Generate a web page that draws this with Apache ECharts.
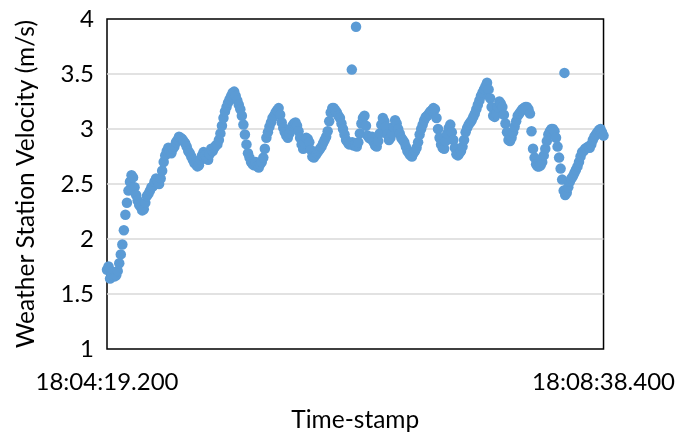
<!DOCTYPE html>
<html>
<head>
<meta charset="utf-8">
<script src="https://cdn.jsdelivr.net/npm/echarts@6/dist/echarts.min.js"></script>
<style>
  html, body { margin: 0; padding: 0; background: #fff; }
  #chart { width: 678px; height: 438px; }
</style>
</head>
<body>
<div id="chart"></div>
<script>
// Logger start time (seconds since midnight) and sampling step
const startClock = 18 * 3600 + 4 * 60 + 19.2;   // 18:04:19.200
const spanSeconds = 259.2;                      // ends 18:08:38.400
const stepSeconds = 0.8;

// Velocity readings (m/s), one every stepSeconds
const velocity = [
  1.72, 1.75, 1.64, 1.68, 1.70, 1.66, 1.67, 1.71, 1.78, 1.86,
  1.95, 2.08, 2.22, 2.33, 2.44, 2.52, 2.58, 2.56, 2.47, 2.40,
  2.35, 2.31, 2.29, 2.26, 2.27, 2.33, 2.39, 2.41, 2.44, 2.47,
  2.48, 2.52, 2.55, 2.53, 2.50, 2.55, 2.62, 2.70, 2.76, 2.80,
  2.83, 2.80, 2.78, 2.82, 2.84, 2.88, 2.90, 2.93, 2.92, 2.91,
  2.89, 2.87, 2.84, 2.80, 2.78, 2.75, 2.72, 2.69, 2.68, 2.66,
  2.67, 2.72, 2.76, 2.79, 2.76, 2.73, 2.72, 2.77, 2.82, 2.80,
  2.83, 2.85, 2.86, 2.90, 2.96, 3.03, 3.10, 3.16, 3.20, 3.24,
  3.27, 3.30, 3.33, 3.34, 3.30, 3.26, 3.22, 3.18, 3.12, 3.04,
  2.95, 2.86, 2.78, 2.74, 2.70, 2.68, 2.67, 2.70, 2.66, 2.65,
  2.68, 2.70, 2.74, 2.82, 2.92, 2.97, 3.02, 3.06, 3.10, 3.12,
  3.15, 3.17, 3.19, 3.13, 3.06, 3.01, 2.97, 2.94, 2.92, 2.96,
  3.00, 3.03, 3.05, 3.06, 3.03, 2.98, 2.92, 2.86, 2.82, 2.87,
  2.92, 2.91, 2.88, 2.81, 2.75, 2.74, 2.76, 2.78, 2.80, 2.82,
  2.84, 2.87, 2.90, 2.93, 2.98, 3.07, 3.15, 3.19, 3.19, 3.17,
  3.15, 3.12, 3.10, 3.05, 3.00, 2.95, 2.90, 2.88, 2.86, 2.87,
  2.88, 2.85, 2.86, 2.84, 2.88, 2.96, 3.05, 3.10, 3.12, 3.03,
  2.94, 2.92, 2.91, 2.93, 2.88, 2.85, 2.84, 2.89, 2.96, 3.04,
  3.10, 3.07, 3.02, 2.95, 2.90, 2.92, 2.96, 3.02, 3.08, 3.05,
  3.00, 2.96, 2.92, 2.90, 2.88, 2.84, 2.80, 2.78, 2.76, 2.75,
  2.78, 2.80, 2.83, 2.88, 2.95, 3.00, 3.04, 3.08, 3.11, 3.12,
  3.14, 3.16, 3.17, 3.19, 3.18, 3.10, 3.00, 2.92, 2.86, 2.83,
  2.82, 2.89, 2.96, 3.01, 3.04, 2.97, 2.90, 2.83, 2.77, 2.76,
  2.78, 2.80, 2.84, 2.90, 2.97, 3.01, 3.04, 3.06, 3.08, 3.11,
  3.14, 3.18, 3.22, 3.26, 3.30, 3.33, 3.36, 3.39, 3.42, 3.36,
  3.28, 3.20, 3.12, 3.11, 3.14, 3.20, 3.25, 3.23, 3.20, 3.13,
  3.05, 2.97, 2.90, 2.89, 2.92, 2.97, 3.02, 3.07, 3.12, 3.14,
  3.16, 3.18, 3.19, 3.20, 3.20, 3.18, 3.14, 2.98, 2.82, 2.74,
  2.68, 2.66, 2.66, 2.67, 2.70, 2.76, 2.82, 2.89, 2.95, 2.98,
  3.00, 3.00, 2.98, 2.92, 2.84, 2.74, 2.64, 2.54, 2.44, 2.40,
  2.42, 2.47, 2.52, 2.55, 2.57, 2.60, 2.63, 2.66, 2.70, 2.75,
  2.79, 2.80, 2.82, 2.83, 2.84, 2.83, 2.86, 2.90, 2.93, 2.95,
  2.97, 2.99, 3.00, 2.97, 2.94
];

// Isolated spikes in the record
const spikeSeconds = [127.8, 130.0, 238.8];
const spikeValues = [3.54, 3.93, 3.51];

// Y axis range
const yMin = 1, yMax = 4, yStep = 0.5;

function clockLabel(offset) {
  const ms = Math.round((startClock + offset) * 1000);
  const h = Math.floor(ms / 3600000);
  const m = Math.floor((ms % 3600000) / 60000);
  const s = Math.floor((ms % 60000) / 1000);
  const f = ms % 1000;
  const p2 = n => String(n).padStart(2, '0');
  return h + ':' + p2(m) + ':' + p2(s) + '.' + String(f).padStart(3, '0');
}

const points = velocity.map((v, i) => [i * stepSeconds, v])
  .concat(spikeSeconds.map((t, i) => [t, spikeValues[i]]));

const font = 'Lato, "Open Sans", sans-serif';
const chart = echarts.init(document.getElementById('chart'), null, { renderer: 'canvas' });
chart.setOption({
  animation: false,
  backgroundColor: '#ffffff',
  grid: {
    left: 107, right: 74, top: 19, bottom: 89,
    show: true, borderColor: '#000000', borderWidth: 1.5, backgroundColor: 'transparent'
  },
  xAxis: {
    type: 'value',
    min: 0, max: spanSeconds, interval: spanSeconds,
    name: 'Time-stamp',
    nameLocation: 'middle', nameGap: 59,
    nameTextStyle: { fontFamily: font, fontSize: 24.5, color: '#000' },
    axisLine: { show: false },
    axisTick: { show: false },
    splitLine: { show: false },
    axisLabel: {
      margin: 21, fontFamily: font, fontSize: 24, color: '#000',
      showMinLabel: true, showMaxLabel: true,
      formatter: clockLabel
    }
  },
  yAxis: {
    type: 'value',
    min: yMin, max: yMax, interval: yStep,
    name: 'Weather Station Velocity (m/s)',
    nameLocation: 'middle', nameGap: 68,
    nameTextStyle: { fontFamily: font, fontSize: 24.5, color: '#000' },
    axisLine: { show: false },
    axisTick: { show: false },
    splitLine: {
      show: true, showMinLine: false, showMaxLine: false,
      lineStyle: { color: '#d9d9d9', width: 1.5 }
    },
    axisLabel: { margin: 13, fontFamily: font, fontSize: 24, color: '#000' }
  },
  series: [{
    type: 'scatter',
    data: points,
    symbol: 'circle',
    symbolSize: 10.5,
    itemStyle: { color: '#5b9bd5', opacity: 1 },
    emphasis: { disabled: true }
  }]
});
</script>
</body>
</html>
